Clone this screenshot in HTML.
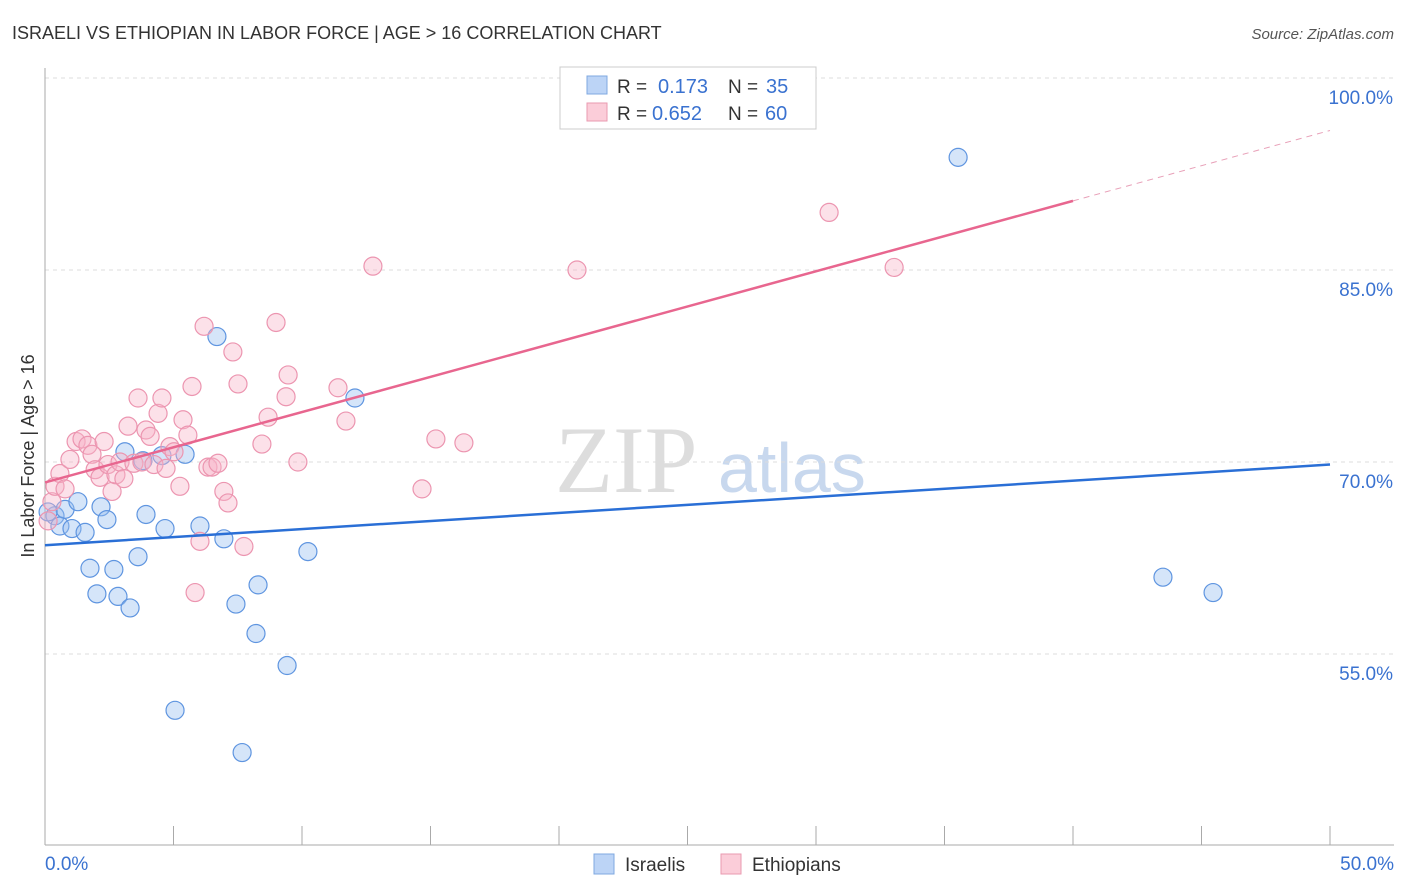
<!DOCTYPE html>
<html><head><meta charset="utf-8"><style>
body{margin:0;background:#fff;font-family:"Liberation Sans",sans-serif;}
svg{display:block}
</style></head><body>
<svg id="c" width="1406" height="892">
<text x="12" y="39" font-size="18" fill="#333">ISRAELI VS ETHIOPIAN IN LABOR FORCE | AGE &gt; 16 CORRELATION CHART</text>
<text x="1394" y="39" font-size="15" fill="#555" font-style="italic" text-anchor="end">Source: ZipAtlas.com</text>
<text x="0" y="0" transform="translate(34,456) rotate(-90)" font-size="18" fill="#333" text-anchor="middle">In Labor Force | Age &gt; 16</text>
<text x="555" y="492" font-size="95" fill="#ddd" font-family="Liberation Serif,serif">ZIP</text>
<text x="718" y="492" font-size="70" fill="#c8d8ee">atlas</text>
<g id="grid"></g><g id="axes"></g><g id="pts"></g><g id="lines"></g>
<g>
<rect x="560" y="67" width="256" height="62" fill="#fff" stroke="#ccc"/>
<rect x="587" y="76" width="20" height="18" fill="#bcd4f6" stroke="#7fa8e0"/>
<text x="617" y="93" font-size="19" fill="#333">R =</text>
<text x="658" y="93" font-size="20" fill="#3a72d0">0.173</text>
<text x="728" y="93" font-size="19" fill="#333">N =</text>
<text x="766" y="93" font-size="20" fill="#3a72d0">35</text>
<rect x="587" y="103" width="20" height="18" fill="#fbcdd9" stroke="#e99ab0"/>
<text x="617" y="120" font-size="19" fill="#333">R =</text>
<text x="652" y="120" font-size="20" fill="#3a72d0">0.652</text>
<text x="728" y="120" font-size="19" fill="#333">N =</text>
<text x="765" y="120" font-size="20" fill="#3a72d0">60</text>
</g>
<g>
<rect x="594" y="854" width="20" height="20" fill="#bcd4f6" stroke="#7fa8e0"/>
<text x="625" y="871" font-size="19" fill="#333">Israelis</text>
<rect x="721" y="854" width="20" height="20" fill="#fbcdd9" stroke="#e99ab0"/>
<text x="752" y="871" font-size="19" fill="#333">Ethiopians</text>
</g>
</svg>
<script>
const yTicks=[55,70,85,100];
const xTickLabels=["0.0%","50.0%"];
const israeliX=[0.39,0.58,0.78,1.05,1.28,1.56,1.75,2.02,2.18,2.41,2.68,2.84,3.11,3.31,3.62,3.81,3.93,4.55,4.67,5.06,5.45,6.03,6.69,6.96,7.43,7.67,8.29,8.21,9.42,10.23,12.06,35.53,43.5,45.45,0.12];
const israeliY=[65.8,65.0,66.3,64.8,66.9,64.5,61.7,59.7,66.5,65.5,61.6,59.5,70.8,58.6,62.6,70.1,65.9,70.5,64.8,50.6,70.6,65.0,79.8,64.0,58.9,47.3,60.4,56.6,54.1,63.0,75.0,93.8,61.0,59.8,66.1];
const ethX=[0.12,0.27,0.39,0.58,0.78,0.97,1.21,1.44,1.67,1.83,1.95,2.14,2.30,2.45,2.61,2.76,2.92,3.07,3.23,3.46,3.62,3.77,3.93,4.09,4.24,4.40,4.55,4.71,4.86,5.02,5.25,5.37,5.56,5.72,5.84,6.03,6.19,6.34,6.50,6.73,6.96,7.12,7.31,7.51,7.74,8.44,8.68,8.99,9.38,9.46,9.84,11.4,11.71,12.76,14.67,15.21,16.3,20.7,30.51,33.04];
const ethY=[65.4,66.9,68.1,69.1,67.9,70.2,71.6,71.8,71.3,70.6,69.4,68.8,71.6,69.8,67.7,69.0,70.0,68.7,72.8,69.9,75.0,70.0,72.5,72.0,69.8,73.8,75.0,69.5,71.2,70.8,68.1,73.3,72.1,75.9,59.8,63.8,80.6,69.6,69.6,69.9,67.7,66.8,78.6,76.1,63.4,71.4,73.5,80.9,75.1,76.8,70.0,75.8,73.2,85.3,67.9,71.8,71.5,85.0,89.5,85.2];
const blueLine=[63.5,69.8];
const pinkLine=[68.4,90.4,95.9];
const X=v=>45+v*25.7, Y=v=>78+(100-v)*12.8;
const NS="http://www.w3.org/2000/svg";
function mk(tag,parent,attrs){const e=document.createElementNS(NS,tag);for(const k in attrs)e.setAttribute(k,attrs[k]);document.getElementById(parent).appendChild(e);return e;}
yTicks.forEach(t=>{
 const l=mk('line','grid',{x1:45,x2:1394,y1:Y(t),y2:Y(t),stroke:'#ddd','stroke-dasharray':'4,4'});
 
 
 const tx=mk('text','grid',{x:1393,y:Y(t)+26,'font-size':19,fill:'#3a72d0','text-anchor':'end'});
 tx.textContent=t.toFixed(1)+'%';
 
 
});
mk('line','axes',{x1:45,x2:45,y1:68,y2:845,stroke:'#aaa'});
mk('line','axes',{x1:45,x2:1394,y1:845,y2:845,stroke:'#aaa'});
for(let i=0;i<=10;i++){const t=mk('line','axes',{x1:X(i*5),x2:X(i*5),y1:826,y2:845,stroke:'#aaa'});
 
 }
[[0,'start',45],[50,'end',1394]].forEach((a,i)=>{const t=mk('text','axes',{x:a[2],y:870,'font-size':19,fill:'#3a72d0','text-anchor':a[1]});t.textContent=xTickLabels[i];
 
 });
israeliX.forEach((v,i)=>{const c=mk('circle','pts',{cx:X(v),cy:Y(israeliY[i]),r:9,fill:'rgba(150,190,240,0.4)',stroke:'#5f95e0','stroke-width':1.2});
 
 });
ethX.forEach((v,i)=>{const c=mk('circle','pts',{cx:X(v),cy:Y(ethY[i]),r:9,fill:'rgba(248,180,200,0.4)',stroke:'#ec95b0','stroke-width':1.2});
 
 });
let l=mk('line','lines',{x1:X(0),y1:Y(blueLine[0]),x2:X(50),y2:Y(blueLine[1]),stroke:'#2a6fd6','stroke-width':2.5});


l=mk('line','lines',{x1:X(0),y1:Y(pinkLine[0]),x2:X(40),y2:Y(pinkLine[1]),stroke:'#e8668f','stroke-width':2.5});


l=mk('line','lines',{x1:X(40),y1:Y(pinkLine[1]),x2:X(50),y2:Y(pinkLine[2]),stroke:'#e8a0b8','stroke-width':1,'stroke-dasharray':'6,5'});


</script>
</body></html>
